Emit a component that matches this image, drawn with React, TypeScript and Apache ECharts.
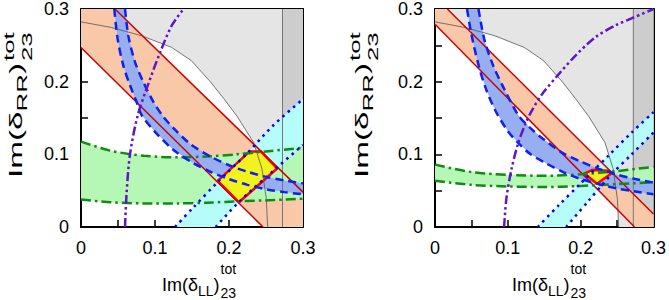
import React, { useEffect, useRef } from 'react';
import * as echarts from 'echarts';

// ---------- shared ----------
const tickLabels = ['0', '0.1', '0.2', '0.3'];
const ellipseArc = [[0, 0.2823], [0.0414, 0.2745], [0.0819, 0.2632], [0.1224, 0.2472], [0.149, 0.229], [0.1747, 0.2], [0.1927, 0.177], [0.2108, 0.1525], [0.2333, 0.1163], [0.2446, 0.08], [0.2504, 0.0391], [0.2522, 0]];
const outerCorners = [[0.3, 0], [0.3, 0.3], [0, 0.3]];
const darkGreyStrip = [[0.2723, 0], [0.3, 0], [0.3, 0.3], [0.2723, 0.3]];
const darkGreyEdge = [[0.2723, 0], [0.2723, 0.3]];

// ---------- panel (a) ----------
const salmonA = [[0, 0.247], [0, 0.3], [0.0459, 0.3], [0.3, 0.048], [0.3, 0], [0.246, 0]];
const redLowA = [[0, 0.247], [0.246, 0]];
const redUpA = [[0.0459, 0.3], [0.3, 0.048]];
const greenUpA = [[0, 0.1175], [0.04, 0.105], [0.085, 0.098], [0.13, 0.096], [0.17, 0.097], [0.21, 0.1], [0.25, 0.104], [0.3, 0.109]];
const greenLoA = [[0, 0.038], [0.04, 0.034], [0.085, 0.0325], [0.13, 0.0325], [0.17, 0.0335], [0.215, 0.0355], [0.26, 0.037], [0.3, 0.039]];
const cyanLeftA = [[0.127, 0], [0.15, 0.025], [0.185, 0.062], [0.225, 0.102], [0.26, 0.14], [0.3, 0.176]];
const cyanRightA = [[0.182, 0], [0.213, 0.034], [0.264, 0.081], [0.3, 0.113]];
const blueLoA = [[0.045, 0.3], [0.0495, 0.259], [0.0572, 0.222], [0.0662, 0.195], [0.0752, 0.172], [0.0819, 0.154], [0.1, 0.131], [0.125, 0.106], [0.15, 0.089], [0.175, 0.076], [0.2, 0.066], [0.225, 0.058], [0.25, 0.052], [0.275, 0.048], [0.3, 0.045]];
const blueUpA = [[0.0595, 0.3], [0.064, 0.263], [0.073, 0.227], [0.084, 0.2], [0.098, 0.172], [0.111, 0.152], [0.125, 0.136], [0.148, 0.114], [0.175, 0.097], [0.2, 0.085], [0.225, 0.076], [0.25, 0.069], [0.275, 0.064], [0.3, 0.06]];
const purpleA = [[0.0595, 0], [0.0617, 0.048], [0.0662, 0.1], [0.0765, 0.153], [0.091, 0.197], [0.1068, 0.24], [0.1225, 0.277], [0.1385, 0.3]];
const yellowA = [[0.1846, 0.0635], [0.228, 0.104], [0.243, 0.104], [0.265, 0.0805], [0.2135, 0.034]];

// ---------- panel (b) ----------
const salmonB = [[0, 0.279], [0, 0.3], [0.017, 0.3], [0.3, 0.018], [0.3, 0], [0.274, 0]];
const redLowB = [[0, 0.279], [0.274, 0]];
const redUpB = [[0.017, 0.3], [0.3, 0.018]];
const greenUpB = [[0, 0.0858], [0.05, 0.0757], [0.1, 0.0718], [0.15, 0.0705], [0.2, 0.0725], [0.25, 0.077], [0.3, 0.0828]];
const greenLoB = [[0, 0.0635], [0.05, 0.058], [0.1, 0.0558], [0.15, 0.055], [0.2, 0.0565], [0.25, 0.059], [0.3, 0.0615]];
const cyanLeftB = [[0.141, 0], [0.17, 0.03], [0.2, 0.06], [0.24, 0.1], [0.27, 0.13], [0.3, 0.158]];
const cyanRightB = [[0.18, 0], [0.21, 0.035], [0.24, 0.07], [0.27, 0.1], [0.3, 0.13]];
const blueLoB = [[0.044, 0.3], [0.05, 0.265], [0.06, 0.222], [0.07, 0.19], [0.083, 0.16], [0.1, 0.132], [0.114, 0.116], [0.13, 0.101], [0.15, 0.089], [0.175, 0.076], [0.2, 0.066], [0.225, 0.059], [0.25, 0.053], [0.275, 0.049], [0.3, 0.045]];
const blueUpB = [[0.0597, 0.3], [0.068, 0.257], [0.08, 0.222], [0.095, 0.19], [0.115, 0.153], [0.13, 0.137], [0.15, 0.12], [0.175, 0.102], [0.2, 0.09], [0.225, 0.08], [0.25, 0.072], [0.275, 0.066], [0.3, 0.061]];
const purpleB = [[0.0949, 0], [0.098, 0.039], [0.1047, 0.078], [0.1138, 0.114], [0.125, 0.144], [0.134, 0.162], [0.148, 0.184], [0.1705, 0.211], [0.193, 0.236], [0.22, 0.261], [0.247, 0.277], [0.272, 0.288], [0.3, 0.3]];
const yellowB = [[0.205, 0.0735], [0.216, 0.0785], [0.239, 0.0775], [0.2425, 0.074], [0.2225, 0.0595]];

const FONT = '"Liberation Sans", Arial, Helvetica, sans-serif';

function measure(t: string, size: number) {
  const c = document.createElement('canvas').getContext('2d')!;
  c.font = `${size}px ${FONT}`;
  return c.measureText(t).width;
}

function polySeries(points: number[][], fill: string, ai: number, stroke?: string, strokeWidth?: number) {
  return {
    type: 'custom',
    xAxisIndex: ai,
    yAxisIndex: ai,
    silent: true,
    clip: true,
    data: points,
    renderItem: (params: any, api: any) => {
      if (params.dataIndex !== 0) return null;
      const pts: number[][] = [];
      for (let i = 0; i < points.length; i++) {
        pts.push(api.coord([api.value(0, i), api.value(1, i)]));
      }
      return {
        type: 'polygon',
        shape: { points: pts },
        style: stroke
          ? { fill, stroke, lineWidth: strokeWidth, lineJoin: 'round' }
          : { fill, stroke: 'none' },
      };
    },
  };
}

function lineSeries(points: number[][], color: string, width: number, dash: any, ai: number, smooth: number = 0) {
  return {
    type: 'line',
    xAxisIndex: ai,
    yAxisIndex: ai,
    silent: true,
    symbol: 'none',
    showSymbol: false,
    smooth,
    data: points,
    lineStyle: { color, width, type: dash, cap: 'butt' },
  };
}

function panelSeries(ai: number, d: any) {
  const bandGreen = [...d.greenUp, ...[...d.greenLo].reverse()];
  const bandCyan = [...d.cyanLeft, ...[...d.cyanRight].reverse()];
  const bandBlue = [...d.blueLo, ...[...d.blueUp].reverse()];
  const grey = [...ellipseArc, ...outerCorners];
  return [
    polySeries(grey, '#e5e5e5', ai),
    polySeries(darkGreyStrip, '#cdcdcd', ai),
    polySeries(d.salmon, '#f9c8a8', ai),
    polySeries(bandGreen, '#b5f8b5', ai),
    polySeries(bandCyan, '#b6fcf8', ai),
    polySeries(bandBlue, '#97aff0', ai),
    lineSeries(ellipseArc, '#555555', 0.8, 'solid', ai, 0),
    lineSeries(darkGreyEdge, '#777777', 1, 'solid', ai),
    lineSeries(d.redLow, '#cc0000', 1.5, 'solid', ai),
    lineSeries(d.redUp, '#cc0000', 1.5, 'solid', ai),
    lineSeries(d.greenUp, '#138a13', 2.5, [10, 4, 2.5, 4], ai, 0.3),
    lineSeries(d.greenLo, '#138a13', 2.5, [10, 4, 2.5, 4], ai, 0.3),
    lineSeries(d.cyanLeft, '#0000ff', 2.5, [2.5, 4.5], ai, 0.3),
    lineSeries(d.cyanRight, '#0000ff', 2.5, [2.5, 4.5], ai, 0.3),
    polySeries(d.yellow, '#f2f21c', ai, '#ff0000', 2.5),
    lineSeries(d.blueLo, '#1020f0', 2.5, [8, 5], ai, 0.3),
    lineSeries(d.blueUp, '#1020f0', 2.5, [8, 5], ai, 0.3),
    lineSeries(d.purple, '#5e14c8', 2.5, [9, 3, 2.5, 3, 2.5, 3], ai, 0.3),
  ];
}

function axis(pos: string, grid: number, labels: boolean) {
  return {
    type: 'value',
    gridIndex: grid,
    position: pos,
    min: 0,
    max: 0.3,
    interval: 0.1,
    axisLine: { show: true, onZero: false, lineStyle: { color: '#000', width: 2 } },
    axisTick: { show: true, inside: true, length: 7, lineStyle: { color: '#000', width: 1.5 } },
    minorTick: { show: true, splitNumber: 2, length: 7, lineStyle: { color: '#000', width: 1.5 } },
    splitLine: { show: false },
    minorSplitLine: { show: false },
    axisLabel: {
      show: labels,
      margin: 12,
      fontSize: 18,
      fontFamily: FONT,
      color: '#000',
      formatter: (v: number) => tickLabels[Math.round(v * 10)] ?? '',
    },
  };
}

function titleChildren(sym: string, supDy: number, subDy: number) {
  const M = 18, S = 14;
  const w1 = measure('Im(δ', M);
  const w2 = measure(sym, S);
  const w3 = measure(')', M);
  const base = { fontFamily: FONT, fill: '#000', align: 'left', verticalAlign: 'middle' };
  return [
    { type: 'text', x: 0, y: 0, style: { ...base, text: 'Im(δ', fontSize: M } },
    { type: 'text', x: w1, y: 6, style: { ...base, text: sym, fontSize: S } },
    { type: 'text', x: w1 + w2, y: 0, style: { ...base, text: ')', fontSize: M } },
    { type: 'text', x: w1 + w2 + w3 + 1, y: supDy, style: { ...base, text: 'tot', fontSize: S } },
    { type: 'text', x: w1 + w2 + w3 + 1, y: subDy, style: { ...base, text: '23', fontSize: S } },
  ];
}

export default function App() {
  const ref = useRef<HTMLDivElement>(null);
  useEffect(() => {
    const chart = echarts.init(ref.current!, undefined, { renderer: 'svg' });
    const A = { salmon: salmonA, redLow: redLowA, redUp: redUpA, greenUp: greenUpA, greenLo: greenLoA, cyanLeft: cyanLeftA, cyanRight: cyanRightA, blueLo: blueLoA, blueUp: blueUpA, purple: purpleA, yellow: yellowA };
    const B = { salmon: salmonB, redLow: redLowB, redUp: redUpB, greenUp: greenUpB, greenLo: greenLoB, cyanLeft: cyanLeftB, cyanRight: cyanRightB, blueLo: blueLoB, blueUp: blueUpB, purple: purpleB, yellow: yellowB };
    chart.setOption({
      animation: false,
      backgroundColor: '#fff',
      grid: [
        { left: 81, top: 7, width: 222, height: 220 },
        { left: 435, top: 7, width: 222, height: 220 },
      ],
      xAxis: [axis('bottom', 0, true), axis('top', 0, false), axis('bottom', 1, true), axis('top', 1, false)],
      yAxis: [axis('left', 0, true), axis('right', 0, false), axis('left', 1, true), axis('right', 1, false)],
      series: [...panelSeries(0, A), ...panelSeries(2, B)],
      graphic: [
        { type: 'group', x: 162, y: 285, children: titleChildren('LL', -16, 8) },
        { type: 'group', x: 512, y: 285, children: titleChildren('LL', -16, 8) },
        { type: 'group', x: 16, y: 178, rotation: Math.PI / 2, scaleX: 1.85, children: titleChildren('RR', -7, 11) },
        { type: 'group', x: 362, y: 178, rotation: Math.PI / 2, scaleX: 1.85, children: titleChildren('RR', -7, 11) },
        { type: 'text', x: 248, y: 78, style: { text: '(a)', fontSize: 18, fontFamily: FONT, fill: '#000', align: 'center', verticalAlign: 'middle' } },
        { type: 'text', x: 602, y: 78, style: { text: '(b)', fontSize: 18, fontFamily: FONT, fill: '#000', align: 'center', verticalAlign: 'middle' } },
      ],
    });
    return () => chart.dispose();
  }, []);
  return <div ref={ref} style={{ width: 669, height: 300, position: 'absolute', left: 0, top: 0 }} />;
}
